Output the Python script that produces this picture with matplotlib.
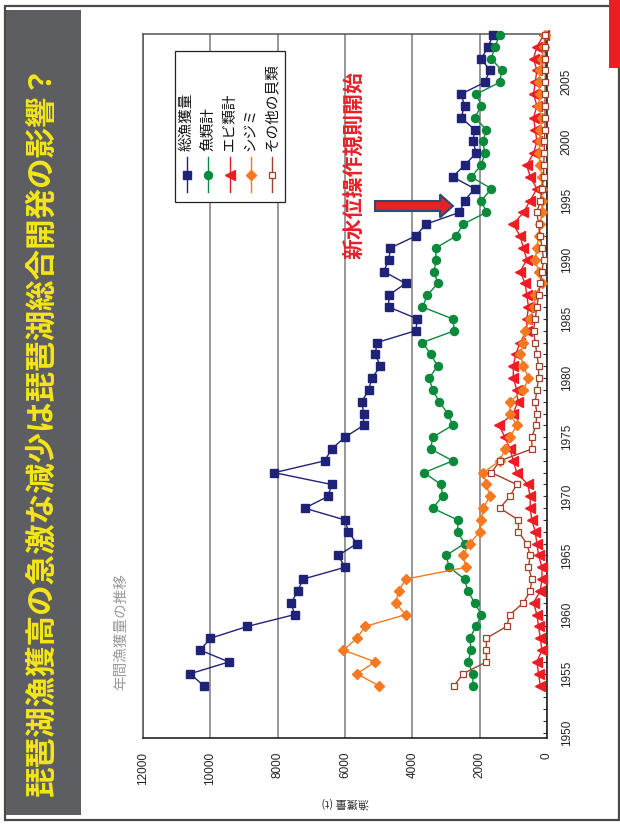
import matplotlib
matplotlib.use('Agg')
import matplotlib.pyplot as plt
from matplotlib.patches import Rectangle, FancyArrow

plt.rcParams['font.family'] = ['Noto Sans CJK JP', 'DejaVu Sans']

# ---------------- data ----------------
years = list(range(1954, 2010))
total = [10200, 10600, 9450, 10300, 10000, 8900, 7500, 7600, 7400, 7250,
         6000, 6200, 5650, 5900, 6000, 7200, 6500, 6400, 8100, 6600,
         6400, 6000, 5450, 5450, 5500, 5300, 5200, 4950, 5100, 5050,
         3900, 3850, 4700, 4700, 4200, 4850, 4700, 4650, 3900, 3600,
         2600, 2450, 2150, 2800, 2450, 2100, 2200, 2150, 2550, 2450,
         2550, 1850, 1700, 1950, 1750, 1600]
fish = [2200, 2200, 2350, 2250, 2300, 2100, 1950, 2150, 2350, 2450,
        2900, 3000, 2450, 2650, 2650, 3400, 3100, 3150, 3650, 2800,
        3450, 3400, 2800, 2950, 3200, 3400, 3500, 3250, 3450, 3700,
        2750, 2800, 3700, 3550, 3250, 3350, 3300, 3300, 2700, 2500,
        1800, 1950, 1650, 2250, 1950, 1850, 1900, 1800, 2150, 1950,
        2100, 1400, 1350, 1650, 1550, 1400]
ebi = [200, 250, 300, 150, 200, 250, 300, 400, 200, 150,
       150, 250, 300, 350, 450, 500, 500, 570, 900, 1000,
       1100, 1250, 1425, 1000, 870, 900, 1000, 1000, 930, 800,
       600, 600, 550, 600, 650, 800, 600, 700, 800, 1000,
       700, 500, 300, 500, 600, 400, 300, 350, 400, 300,
       400, 350, 300, 400, 300, 100]
shijimi = [5000, 5650, 5100, 6050, 5650, 5400, 4200, 4500, 4400, 4200,
           2400, 2500, 2300, 2000, 1950, 1900, 1700, 1800, 1900, 1400,
           1250, 1100, 900, 1100, 1100, 700, 550, 700, 800, 700,
           650, 500, 400, 350, 150, 250, 350, 300, 250, 200,
           150, 150, 150, 150, 200, 250, 200, 200, 150, 250,
           200, 250, 200, 150, 100, 50]
other = [2750, 2500, 1800, 1800, 1800, 1200, 1100, 700, 500, 450,
         550, 500, 600, 850, 850, 1400, 1100, 900, 1650, 1400,
         450, 450, 330, 300, 350, 300, 250, 250, 300, 350,
         400, 350, 300, 250, 200, 150, 100, 150, 200, 250,
         300, 200, 150, 100, 100, 80, 80, 60, 60, 60,
         60, 50, 50, 50, 50, 50]

series_names = ['総漁獲量', '魚類計', 'エビ類計', 'シジミ', 'その他の貝類']
catch_ticks = [0, 2000, 4000, 6000, 8000, 10000, 12000]
year_ticks = [1950, 1955, 1960, 1965, 1970, 1975, 1980, 1985, 1990, 1995, 2000, 2005]

title = '琵琶湖漁獲高の急激な減少は琵琶湖総合開発の影響？'
subtitle = '年間漁獲量の推移'
note = '新水位操作規則開始'
value_label = '漁獲量 (t)'

# ---------------- figure ----------------
W, H = 620, 831
fig = plt.figure(figsize=(W / 100, H / 100), dpi=100)


def rect(l, t, r, b):
    return [l / W, 1 - b / H, (r - l) / W, (b - t) / H]


styles = [
    dict(color='#1f2378', marker='s', ms=5.6, lw=1.0, mec='#1f2378'),
    dict(color='#0b8a3c', marker='o', ms=5.8, lw=1.0, mec='#0b8a3c'),
    dict(color='#ee1c25', marker='<', ms=6.5, lw=1.0, mec='#ee1c25'),
    dict(color='#f47920', marker='D', ms=4.8, lw=1.0, mec='#f47920'),
    dict(color='#a3402b', marker='s', ms=5.0, lw=1.0, mec='#a3402b', mfc='white', mew=0.9),
]
all_series = [total, fish, ebi, shijimi, other]

ax = fig.add_axes(rect(143, 34, 547, 738))
for vals, st in zip(all_series, styles):
    ax.plot(vals, years, clip_on=False, zorder=3, **st)

ax.set_xlim(12000, 0)
ax.set_ylim(1949.57, 2009.08)
ax.set_xticks(catch_ticks)
ax.set_xticklabels([str(v) for v in catch_ticks], rotation=90,
                   fontsize=8.5, family=['Liberation Sans', 'DejaVu Sans'], color='#222222')
ax.tick_params(axis='x', length=0, pad=10)
ax.yaxis.tick_right()
ax.set_yticks(year_ticks)
ax.set_yticks(list(range(1950, 2010)), minor=True)
ax.set_yticklabels([str(y) for y in year_ticks], rotation=90, va='center',
                   fontsize=8.5, family=['Liberation Sans', 'DejaVu Sans'], color='#222222')
ax.tick_params(axis='y', which='both', direction='in', length=3, width=0.8, pad=10, color='#333333')
ax.grid(axis='x', color='#7a7a7a', lw=1.1)
ax.set_axisbelow(True)
for side in ['left', 'top']:
    ax.spines[side].set_color('#555555')
    ax.spines[side].set_linewidth(1.1)
for side in ['right', 'bottom']:
    ax.spines[side].set_color('#222222')
    ax.spines[side].set_linewidth(1.2)

# ---------------- overlay (pixel coordinates) ----------------
oax = fig.add_axes([0, 0, 1, 1], zorder=10)
oax.set_xlim(0, W)
oax.set_ylim(H, 0)
oax.axis('off')
oax.patch.set_alpha(0)

oax.add_patch(Rectangle((4.5, 6), 614, 814, fill=False, ec='#4a4a4a', lw=1.6))
oax.add_patch(Rectangle((609, 0), 11, 68, color='#ee1c25', lw=0))
oax.add_patch(Rectangle((5.5, 10), 75.5, 805, color='#5d5e61', lw=0))
oax.text(42, 430, title, rotation=90, ha='center', va='center', fontsize=22,
         weight='bold', color='#f5e61a')

oax.text(121, 632, subtitle, rotation=90, ha='center', va='center', fontsize=10.5,
         color='#9a9a9a')

oax.text(345, 803, value_label, rotation=180, ha='center', va='center', fontsize=8,
         color='#333333')

# legend
oax.add_patch(Rectangle((175, 51), 110, 151, fc='white', ec='#222222', lw=0.9))
leg_x = [187, 208, 230, 251, 272]
for x, name, st in zip(leg_x, series_names, styles):
    oax.plot([x, x], [157, 192], color=st['color'], lw=1.0)
    mst = {k: v for k, v in st.items() if k not in ('lw',)}
    oax.plot([x], [175], ls='none', **mst)
    oax.text(x, 151, name, rotation=90, ha='center', va='bottom', fontsize=10.5,
             color='#111111')

# annotation
oax.text(355, 165, note, rotation=90, ha='center', va='center', fontsize=15,
         weight='bold', color='#e8202a')
oax.add_patch(FancyArrow(375, 206, 78, 0, width=10, head_width=23, head_length=13,
                         length_includes_head=True, fc='#e8202a', ec='#2e4a7a', lw=1.5))

fig.savefig('out.png', dpi=100)
